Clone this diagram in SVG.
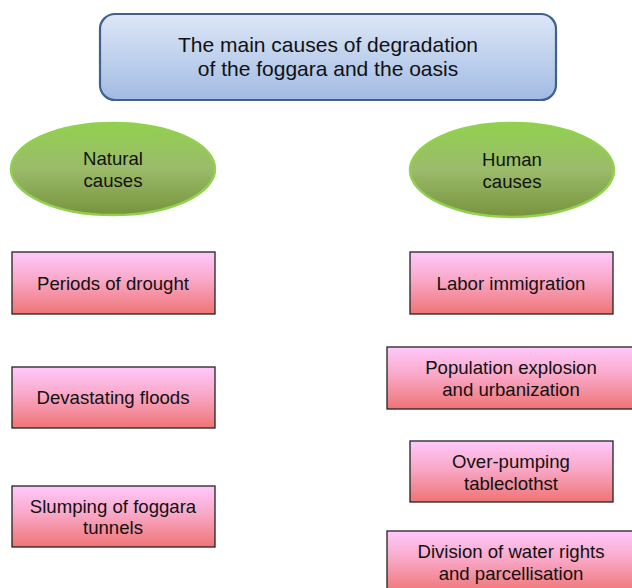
<svg xmlns="http://www.w3.org/2000/svg" width="632" height="588" viewBox="0 0 632 588">
<defs>
<linearGradient id="gBlue" x1="0" y1="0" x2="0" y2="1"><stop offset="0" stop-color="#dde7f6"/><stop offset="1" stop-color="#a2bbe4"/></linearGradient>
<linearGradient id="gGreen" x1="0" y1="0" x2="0" y2="1"><stop offset="0" stop-color="#92d050"/><stop offset="0.5" stop-color="#9bbb6a"/><stop offset="1" stop-color="#77933c"/></linearGradient>
<linearGradient id="gPink" x1="0" y1="0" x2="0" y2="1"><stop offset="0" stop-color="#ffc9fb"/><stop offset="0.45" stop-color="#f9a8c8"/><stop offset="1" stop-color="#ef7474"/></linearGradient>
</defs>
<style>
text{font-family:"Liberation Sans",Arial,sans-serif;font-size:18.6px;fill:#111;text-anchor:middle}
.title{font-size:21px}
.box{fill:url(#gPink);stroke:#222;stroke-width:1.3}
.ell{fill:url(#gGreen);stroke:#92d050;stroke-width:2.5}
</style>
<g id="title">
<rect x="100" y="14" width="456" height="86" rx="15" fill="url(#gBlue)" stroke="#40618f" stroke-width="2.2"/>
<text class="title" x="328" y="52">The main causes of degradation</text>
<text class="title" x="328" y="76">of the foggara and the oasis</text>
</g>
<g id="natural">
<ellipse class="ell" cx="113" cy="169" rx="102" ry="46"/>
<text x="113" y="165">Natural</text>
<text x="113" y="187">causes</text>
</g>
<g id="human">
<ellipse class="ell" cx="512" cy="170" rx="102" ry="47"/>
<text x="512" y="166">Human</text>
<text x="512" y="188">causes</text>
</g>
<g id="drought">
<rect class="box" x="12" y="252" width="203" height="62"/>
<text x="113" y="290">Periods of drought</text>
</g>
<g id="floods">
<rect class="box" x="12" y="367" width="203" height="61"/>
<text x="113" y="404">Devastating floods</text>
</g>
<g id="slumping">
<rect class="box" x="12" y="486" width="203" height="61"/>
<text x="113" y="513">Slumping of foggara</text>
<text x="113" y="534">tunnels</text>
</g>
<g id="labor">
<rect class="box" x="410" y="252" width="203" height="62"/>
<text x="511" y="290">Labor immigration</text>
</g>
<g id="population">
<rect class="box" x="387" y="347" width="250" height="62"/>
<text x="511" y="374">Population explosion</text>
<text x="511" y="396">and urbanization</text>
</g>
<g id="overpumping">
<rect class="box" x="410" y="441" width="203" height="61"/>
<text x="511" y="468">Over-pumping</text>
<text x="511" y="490">tableclothst</text>
</g>
<g id="division">
<rect class="box" x="387" y="531" width="250" height="62"/>
<text x="511" y="558">Division of water rights</text>
<text x="511" y="580">and parcellisation</text>
</g>
<g id="connectors"></g>
</svg>
